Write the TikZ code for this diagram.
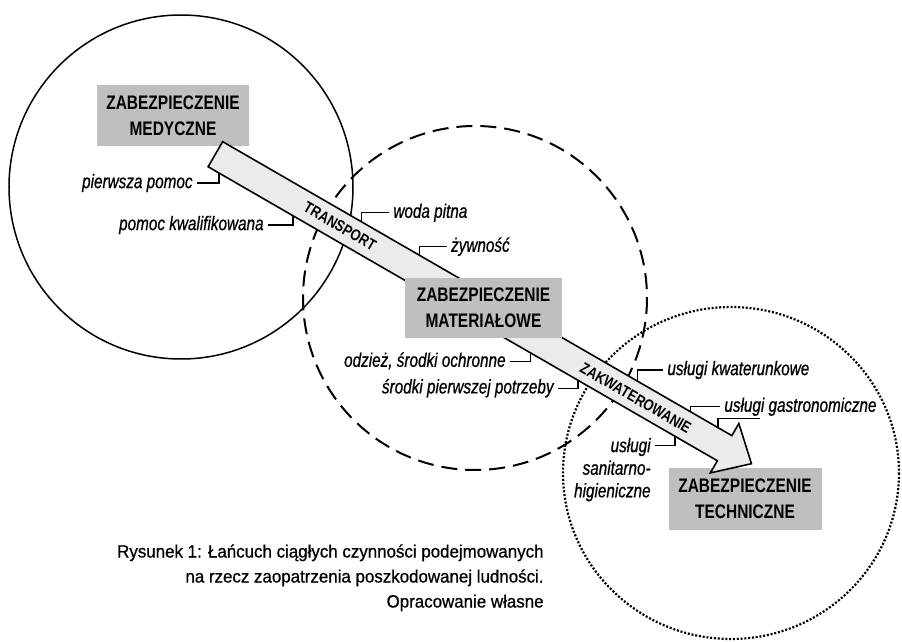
\documentclass[tikz,border=0pt]{standalone}
\usepackage{fontspec}
\setmainfont{Liberation Sans}
\newfontfamily\boxfont[FakeStretch=0.79]{Liberation Sans}
\newfontfamily\flowfont[FakeStretch=0.82]{Liberation Sans}
\newfontfamily\lblfont[FakeStretch=0.78,FakeBold=0.7]{Liberation Sans}
\newfontfamily\capfont[FakeStretch=0.95,FakeBold=0.8]{Liberation Sans}
\definecolor{boxgray}{gray}{0.75}
\definecolor{flowgray}{gray}{0.92}
\tikzset{
  zone/.style={line width=0.75pt},
  topic/.style={fill=boxgray, align=center, inner sep=0pt,
    font=\boxfont\bfseries\fontsize{9.8}{13}\selectfont},
  flow/.style={draw, fill=flowgray, line width=0.8pt, line join=miter},
  flowtext/.style={rotate=-30, inner sep=0pt, font=\flowfont\bfseries\fontsize{7.9}{9}\selectfont},
  lbl/.style={inner xsep=2pt, inner ysep=0pt, text height=5.1pt, text depth=0pt,
    font=\lblfont\itshape\fontsize{9.8}{11.5}\selectfont},
  leader/.style={line width=0.6pt}
}
\begin{document}
\begin{tikzpicture}[x=0.5pt,y=-0.5pt]
\useasboundingbox (0,0) rectangle (902,642);

% three zones
\draw[zone] (181,187) circle (172);
\draw[zone, line width=1pt, dash pattern=on 8pt off 4pt] (475,298) circle (172);
\draw[zone, line width=1.1pt, dash pattern=on 1pt off 0.9pt] (731,473) ellipse (168 and 166);

\node[topic, minimum width=76pt, minimum height=30.5pt] (med) at (173,115.5)
  {ZABEZPIECZENIE\\MEDYCZNE};
\node[topic, minimum width=76.5pt, minimum height=31pt] (tech) at (745,499)
  {ZABEZPIECZENIE\\TECHNICZNE};

% the chain arrow
\begin{scope}[shift={(215.4,154.2)},rotate=-30]
\draw[flow] (0,-14.5) -- (588,-14.5) -- (588,-28.5) -- (619,0)
  -- (588,28.5) -- (588,14.5) -- (0,14.5) -- cycle;
\node[flowtext] (transport) at (144,0) {TRANSPORT};
\node[flowtext] (zakw) at (486,1) {ZAKWATEROWANIE};
% points on the arrow edges
\coordinate (a1) at (12.6,14.5);
\coordinate (a2) at (98,14.5);
\coordinate (a3) at (160,-14.5);
\coordinate (a4) at (227,-14.5);
\coordinate (a5) at (372,14.5);
\coordinate (a6) at (427,14.5);
\coordinate (a7) at (479,-14.5);
\coordinate (a8) at (540,-14.5);
\coordinate (a9) at (572,-14.5);
\coordinate (a10) at (539,14.5);
\end{scope}

\node[topic, minimum width=78.5pt, minimum height=30pt] (mat) at (483.5,308)
  {ZABEZPIECZENIE\\MATERIAŁOWE};

% labels
\node[lbl, anchor=east] (pp) at (197,183) {pierwsza pomoc};
\node[lbl, anchor=east] (pk) at (268,225) {pomoc kwalifikowana};
\node[lbl, anchor=west] (wp) at (389,212.7) {woda pitna};
\node[lbl, anchor=west] (zy) at (446.7,246.7) {żywność};
\node[lbl, anchor=east] (oc) at (510,361.7) {odzież, środki ochronne};
\node[lbl, anchor=east] (sp) at (558,388.3) {środki pierwszej potrzeby};
\node[lbl, anchor=west] (uk) at (663,370) {usługi kwaterunkowe};
\node[lbl, anchor=west] (ug) at (720,406.7) {usługi gastronomiczne};
\node[inner sep=0pt, align=right, anchor=north east,
  font=\lblfont\itshape\fontsize{9.8}{11.3}\selectfont] (sh) at (651,437.5)
  {usługi\\sanitarno-\\higieniczne};
\coordinate (e9) at (760,418.3);

\draw[leader] (pp.east) -| (a1);
\draw[leader] (pk.east) -| (a2);
\draw[leader] (wp.west) -| (a3);
\draw[leader] (zy.west) -| (a4);
\draw[leader] (oc.east) -| (a5);
\draw[leader] (sp.east) -| (a6);
\draw[leader] (uk.west) -| (a7);
\draw[leader] (ug.west) -| (a8);
\draw[leader] (e9) -| (a9);
\draw[leader] ([xshift=2pt,yshift=-4.1pt]sh.north east) -| (a10);

% caption
\node[inner sep=0pt, align=right, anchor=north east,
  font=\capfont\fontsize{8.9}{12.5}\selectfont] (cap) at (544,544)
  {Rysunek 1: Łańcuch ciągłych czynności podejmowanych\\
   na rzecz zaopatrzenia poszkodowanej ludności.\\
   Opracowanie własne};
\end{tikzpicture}
\end{document}
